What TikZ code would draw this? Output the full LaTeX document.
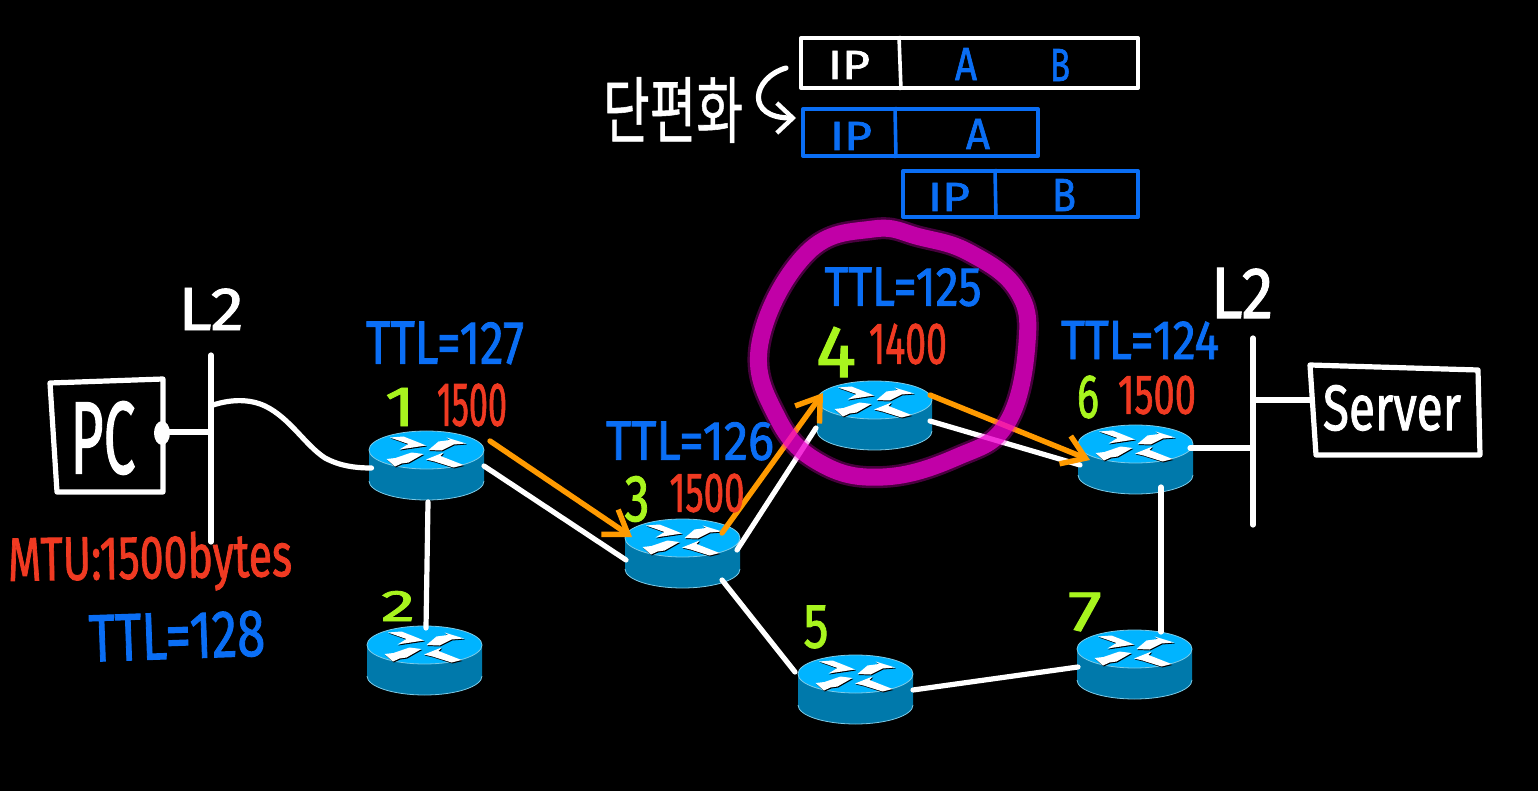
\documentclass[tikz,border=0pt]{standalone}
\usepackage{fontspec}
\usepackage{graphicx}
\setmainfont[FakeBold=1.6]{Fira Sans}
\newfontfamily\krfont[FakeBold=0.8]{Noto Sans CJK KR}
\usetikzlibrary{calc,arrows.meta}
\definecolor{hwblue}{HTML}{0A6EF5}
\definecolor{hwred}{HTML}{F03A22}
\definecolor{hwlime}{HTML}{A8F51E}
\definecolor{hworange}{HTML}{FF9A00}
\definecolor{ringmag}{HTML}{F000D0}
\definecolor{rtop}{HTML}{00B4FF}
\definecolor{rbody}{HTML}{0079AB}
\definecolor{redge}{HTML}{7CCBE8}
\newcommand{\hw}[3]{\resizebox{\dimexpr#1pt/2\relax}{\dimexpr#2pt/2\relax}{#3}}
\tikzset{
  x=0.5pt,y=-0.5pt,
  routerbox/.style={minimum width=57.5pt,minimum height=34.5pt,inner sep=0pt,draw=none},
  lab/.style={inner sep=0pt,outer sep=0pt},
  wire/.style={draw=white,line width=2.6pt,line cap=round,line join=round},
  flow/.style={draw=hworange,line width=2.7pt,line cap=round,line join=round,
    -{Straight Barb[length=11pt,width=15pt,line width=2.7pt]}},
  pkt/.style={draw,line width=2pt,inner sep=0pt,line join=round},
  router/.pic={
    \fill[rbody] (-57.5,-15.5) -- (-57.5,15.5) .. controls (-57.5,26) and (-31.6,34.5) .. (0,34.5)
       .. controls (31.6,34.5) and (57.5,26) .. (57.5,15.5) -- (57.5,-15.5) -- cycle;
    \draw[redge,line width=.4pt] (-57.5,15.5) .. controls (-57.5,26) and (-31.6,34.5) .. (0,34.5)
       .. controls (31.6,34.5) and (57.5,26) .. (57.5,15.5);
    \fill[rtop] (0,-15.5) ellipse [x radius=28.75pt,y radius=9.5pt];
    \draw[redge,line width=.4pt] (0,-15.5) ellipse [x radius=28.75pt,y radius=9.5pt];
    \begin{scope}[shift={(0.8,1)}]
      \fill[black] (-36.5,-28) -- (-23,-29) -- (-9,-23.5) -- (-0.5,-20) -- (-27,-16) -- (-18,-21.5) -- cycle;
      \fill[black] (2,-15.5) -- (15,-15) -- (27,-21) -- (39.5,-22) -- (20,-28) -- (23.5,-25.5) -- (12,-24) -- cycle;
      \fill[black] (-40,-6.5) -- (-31,-7.5) -- (-15,-13) -- (-3,-11.5) -- (-18,-3) -- (-25,-2) -- (-31.5,1) -- cycle;
      \fill[black] (-0.5,-6) -- (17,-13) -- (14,-9.5) -- (37,-0.5) -- (27,2) -- (8,-4) -- cycle;
    \end{scope}
    \fill[white] (-36.5,-28) -- (-23,-29) -- (-9,-23.5) -- (-0.5,-20) -- (-27,-16) -- (-18,-21.5) -- cycle;
    \fill[white] (2,-15.5) -- (15,-15) -- (27,-21) -- (39.5,-22) -- (20,-28) -- (23.5,-25.5) -- (12,-24) -- cycle;
    \fill[white] (-40,-6.5) -- (-31,-7.5) -- (-15,-13) -- (-3,-11.5) -- (-18,-3) -- (-25,-2) -- (-31.5,1) -- cycle;
    \fill[white] (-0.5,-6) -- (17,-13) -- (14,-9.5) -- (37,-0.5) -- (27,2) -- (8,-4) -- cycle;
  }
}
\begin{document}
\begin{tikzpicture}
\fill[black] (0,0) rectangle (1538,791);
\useasboundingbox (0,0) rectangle (1538,791);

% routers
\node[routerbox] (r1) at (426.5,465.5) {};
\node[routerbox] (r2) at (424.5,660.5) {};
\node[routerbox] (r3) at (682.5,553.5) {};
\node[routerbox] (r4) at (874.5,415.5) {};
\node[routerbox] (r5) at (855.5,689.5) {};
\node[routerbox] (r6) at (1135.5,459.5) {};
\node[routerbox] (r7) at (1134.5,664.5) {};
\foreach \r in {r1,r2,r3,r4,r5,r6,r7} \pic at (\r) {router};

% L2 buses
\coordinate (busLt) at (211,355);
\coordinate (busLb) at (211,542);
\coordinate (busRt) at (1253,338);
\coordinate (busRb) at (1253,525);
\draw[wire] (busLt) -- (busLb);
\draw[wire] (busRt) -- (busRb);

% PC and server
\draw[wire] (50,383) -- (163,379) -- (163,492) -- (57,492) -- cycle;
\node[lab,minimum width=55pt,minimum height=55pt] (pc) at (107,436) {};
\node[lab,white] (pct) at (103,438) {\hw{65}{72}{PC}};
\fill[white] (162,433) ellipse [x radius=4pt,y radius=6pt];
\draw[wire] (162,432) -- (211,432);
\draw[wire] (1310,365) -- (1478,370) -- (1480,455) -- (1316,455) -- cycle;
\node[lab,minimum width=84pt,minimum height=44pt] (srv) at (1395,410) {};
\node[lab,white] (srvt) at (1392,408) {\hw{138}{45}{Server}};
\draw[wire] (1253,400) -- (1310,400);

% links
\draw[wire] (213,405) .. controls (232,399) and (250,399) .. (265,406)
   .. controls (290,418) and (305,445) .. (325,458)
   .. controls (340,466) and (355,468) .. ($(r1)+(-55,2.5)$);
\draw[wire] ($(r1)+(57.5,.5)$) -- ($(r3)+(-56.5,6.5)$);
\draw[wire] ($(r1)+(1.5,36.5)$) -- ($(r2)+(1.5,-32.5)$);
\draw[wire] ($(r3)+(54.5,-3.5)$) -- ($(r4)+(-58.5,12.5)$);
\draw[wire] ($(r3)+(39.5,26.5)$) -- ($(r5)+(-60.5,-17.5)$);
\draw[wire] ($(r4)+(55.5,5.5)$) -- ($(r6)+(-55.5,5.5)$);
\draw[wire] ($(r5)+(57.5,.5)$) -- ($(r7)+(-56.5,2.5)$);
\draw[wire] ($(r6)+(25.5,27.5)$) -- ($(r7)+(26.5,-32.5)$);
\draw[wire] ($(r6)+(54.5,-11.5)$) -- (1253,448);

% data path
\draw[flow] ($(r1)+(63.5,-24.5)$) -- ($(r3)+(-50.5,-16.5)$);
\draw[flow] ($(r3)+(39.5,-20.5)$) -- ($(r4)+(-51.5,-22.5)$);
\draw[flow] ($(r4)+(55.5,-20.5)$) -- ($(r6)+(-45.5,0.5)$);

% ring around router 4
\def\ringpts{(873,229) (807,253) (760,343) (777,417) (820,463) (883,477) (957,457) (1007,423) (1027,343) (1017,290) (970,253) (920,237)}
\draw[ringmag,opacity=.3,line width=11pt] plot[smooth cycle,tension=.7] coordinates {\ringpts};
\draw[ringmag,opacity=.72,line width=8.5pt] plot[smooth cycle,tension=.7] coordinates {\ringpts};

% packets
\node[pkt,draw=white,minimum width=168.5pt,minimum height=25pt] (p0) at (969.5,63) {};
\draw[white,line width=1.8pt] ([xshift=50pt]p0.north west) -- ([xshift=51pt]p0.south west);
\node[lab,white] (p0ip) at (849,65) {\hw{42}{28}{IP}};
\node[lab,hwblue] (p0a) at (966,64) {\hw{22}{32}{A}};
\node[lab,hwblue] (p0b) at (1060,65) {\hw{20}{32}{B}};
\node[pkt,draw=hwblue,minimum width=117.5pt,minimum height=23.5pt] (p1) at (920.5,132.5) {};
\draw[hwblue,line width=1.8pt] ([xshift=47pt]p1.north west) -- ([xshift=47.5pt]p1.south west);
\node[lab,hwblue] (p1ip) at (851,136) {\hw{42}{28}{IP}};
\node[lab,hwblue] (p1a) at (978,134) {\hw{24}{30}{A}};
\node[pkt,draw=hwblue,minimum width=117.5pt,minimum height=23pt] (p2) at (1020.5,194) {};
\draw[hwblue,line width=1.8pt] ([xshift=47pt]p2.north west) -- ([xshift=47.5pt]p2.south west);
\node[lab,hwblue] (p2ip) at (949,197) {\hw{42}{28}{IP}};
\node[lab,hwblue] (p2b) at (1064,195) {\hw{24}{32}{B}};

% fragmentation arrow and label
\coordinate (fragS) at (786,68);
\coordinate (fragE) at (796,118);
\draw[wire,-{Straight Barb[length=8pt,width=15pt,line width=2.2pt]}] (fragS) .. controls (752,78) and (745,118) .. (fragE);
\node[lab,white] (frag) at (673,110) {\hw{140}{60}{\krfont 단편화}};

% labels
\node[lab,white] (l2l) at (211,309) {\hw{65}{42}{L2}};
\node[lab,white] (l2r) at (1242,293) {\hw{62}{50}{L2}};
\node[lab,hwred,rotate=1] (mtu) at (150,562) {\hw{284}{46}{MTU:1500bytes}};
\node[lab,hwblue,rotate=2] (t128) at (177,636) {\hw{176}{46}{TTL=128}};
\node[lab,hwblue] (t127) at (445,343) {\hw{158}{42}{TTL=127}};
\node[lab,hwblue] (t126) at (690,441) {\hw{168}{38}{TTL=126}};
\node[lab,hwblue] (t125) at (903,287) {\hw{157}{38}{TTL=125}};
\node[lab,hwblue] (t124) at (1140,340) {\hw{158}{38}{TTL=124}};
\node[lab,hwred] (m1) at (472,405) {\hw{70}{42}{1500}};
\node[lab,hwred] (m3) at (707,493) {\hw{75}{38}{1500}};
\node[lab,hwred] (m4) at (908,344) {\hw{78}{40}{1400}};
\node[lab,hwred] (m6) at (1157,395) {\hw{78}{38}{1500}};
\node[lab,hwlime] (n1) at (400,407) {\hw{30}{38}{1}};
\node[lab,hwlime] (n2) at (398,606) {\hw{34}{30}{2}};
\node[lab,hwlime] (n3) at (637,499) {\hw{25}{45}{3}};
\node[lab,hwlime] (n4) at (836,352) {\hw{40}{50}{4}};
\node[lab,hwlime] (n5) at (816,627) {\hw{25}{42}{5}};
\node[lab,hwlime] (n6) at (1088,397) {\hw{22}{42}{6}};
\node[lab,hwlime] (n7) at (1085,612) {\hw{34}{38}{7}};
\end{tikzpicture}
\end{document}
